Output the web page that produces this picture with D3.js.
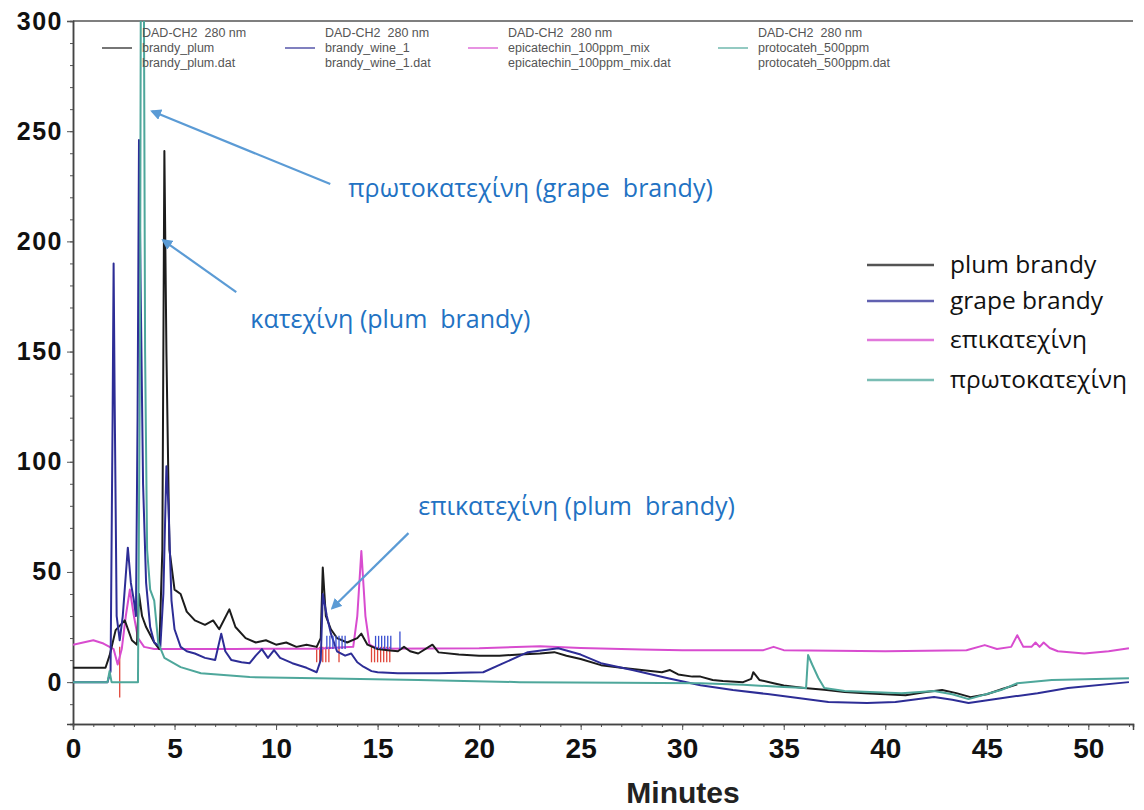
<!DOCTYPE html>
<html><head><meta charset="utf-8">
<script src="https://cdn.jsdelivr.net/npm/d3@7"></script>
<style>
html,body{margin:0;padding:0;background:#fff;}
svg{display:block;}
</style></head>
<body>
<script>
// ---------- DATA ----------
const plumT = [0,1.6,1.8,2.1,2.55,2.9,3.15,3.25,3.4,3.6,4.0,4.25,4.4,4.5,4.6,4.75,5.0,5.3,5.6,6.0,6.5,6.9,7.2,7.7,8.0,8.5,9.0,9.5,10,10.5,11,11.5,12,12.2,12.3,12.45,12.7,13,13.5,14,14.2,14.5,15,15.5,16,16.3,16.6,17,17.7,18,19,20,21,22,23,23.7,24.3,25,26,27,28,29,29.4,29.8,30.5,30.9,31.5,32,33,33.4,33.5,33.8,34.5,35,36,37,38,39,40,41,42,42.8,43.5,44.2,45,45.8,46.5];
const plumV = [6.5,6.5,12,23.6,28,19,17,40,30,25,18,15,60,241,150,60,42,40,32,28,26,28,24,33,25,20,18,19,17,18,16,17,16,20,52,30,24,20,18,20,22,17,15,14.5,14,16,14,13,17,13.5,12.5,12,12,12.5,13,13.6,12,10.5,7.7,6.5,5.5,4.5,5.5,3.5,2.5,2.5,1,0.5,0,1.5,4.5,1,-0.5,-1.5,-2.7,-3.5,-4.5,-5,-5.5,-6,-4.5,-3.6,-5,-6.8,-5.5,-3,-1];

const grapeT = [0,1.7,1.85,1.95,2.0,2.05,2.15,2.3,2.45,2.7,2.85,3.0,3.1,3.18,3.25,3.33,3.45,3.6,3.8,4.0,4.3,4.45,4.6,4.7,4.85,5.0,5.3,5.6,6.0,6.5,7.0,7.3,7.5,7.8,8.3,8.7,9.0,9.3,9.6,9.9,10.2,10.8,11.5,12.0,12.2,12.3,12.5,12.7,13,13.4,13.7,14.0,14.3,14.7,15,16,17,18,19,20.2,21.2,22.4,23.9,25,26,27.6,29.3,30.9,32.5,34.2,35.8,37.2,39.1,40.5,42.4,43.3,44.1,45.7,47.5,49,52];
const grapeV = [0,0,5,120,190,130,30,19,30,61,45,37,30,120,246,180,90,45,25,18,16,40,98,80,37,24,16,14,13,11,10,22,14,10,9,8.6,12,15,11,14.5,11,8.6,6.5,4.5,10,40,30,22,14,12,13,9,7,5,4.5,4,4,4,4.2,4.5,8.6,13.6,15.4,12.5,8.6,5.4,1.8,-1.4,-3.6,-5.4,-7.3,-9,-9.5,-9,-6.8,-8,-9.5,-7.3,-5,-2.7,0];

const epiT = [0,0.5,1.0,1.5,1.8,2.0,2.2,2.4,2.6,2.8,3.0,3.2,3.5,4,6,8,10,12,13.8,14.0,14.2,14.4,14.6,15,20,23,25,28,30,34,34.5,35,40,44,44.9,45.5,46.2,46.5,46.8,47.2,47.4,47.6,47.8,48.1,48.5,49.8,51,52];
const epiV = [17,18,19,17.5,16,15,8,15,30,42,30,20,16,15,15,15,15.2,15.2,16,30,59.5,30,17,15.2,15.4,16.3,15.5,14.8,14.5,14.5,16,14.5,14,14.5,16.8,15,16,21.3,16,16,18,16,18,15.5,14,13,14,15.4];

const protoT = [0,1.7,1.8,1.9,3.2,3.3,3.36,3.46,3.55,3.65,3.8,4.0,4.2,4.5,5.3,6.3,8.7,12,17,22,27,30.9,33,35,36.1,36.2,36.4,36.7,37.0,38,40.8,42.4,43.3,44.1,45.7,46.5,48.2,52];
const protoV = [0,0,5,0,0,150,400,400,150,60,42,37,17.7,11,6.8,4,2.3,1.8,1,0,-0.3,-0.5,-1.2,-2.2,-2.7,12.3,8,2,-2.7,-4,-5,-4,-5.5,-7.7,-3.6,-0.5,1,1.8];

const redMarkTimes = [2.3,12.0,12.15,12.3,12.45,12.6,13.1,14.7,14.85,15.0,15.15,15.3,15.45,15.6];
const blueMarkTimes = [12.5,12.65,12.8,12.95,13.1,13.25,13.4,14.9,15.05,15.2,15.35,15.5,15.65,16.1];

const xTicks = [0,5,10,15,20,25,30,35,40,45,50];
const yTicks = [0,50,100,150,200,250,300];

const seriesNames = ["plum brandy","grape brandy","επικατεχίνη","πρωτοκατεχίνη"];
const seriesColors = ["#1c1c1c","#2d2d96","#d84ccf","#4ea79b"];
const topLegendTitle = ["DAD-CH2  280 nm","DAD-CH2  280 nm","DAD-CH2  280 nm","DAD-CH2  280 nm"];
const topLegendName = ["brandy_plum","brandy_wine_1","epicatechin_100ppm_mix","protocateh_500ppm"];
const topLegendFile = ["brandy_plum.dat","brandy_wine_1.dat","epicatechin_100ppm_mix.dat","protocateh_500ppm.dat"];

const annoTexts = ["πρωτοκατεχίνη (grape  brandy)","κατεχίνη (plum  brandy)","επικατεχίνη (plum  brandy)"];
const annoTextT = [13.56,8.73,17.0];
const annoTextV = [220,160.6,75.8];
const arrowFromT = [12.67,8.04,16.52];
const arrowFromV = [226,177,67.6];
const arrowToT = [3.9,4.44,12.77];
const arrowToV = [259,200.5,33.6];

// ---------- CHART ----------
const W = 1144, H = 810;
const svg = d3.select("body").append("svg").attr("width",W).attr("height",H);

const x = d3.scaleLinear().domain([0,52.2]).range([73,1133]);
const y = d3.scaleLinear().domain([-19,300]).range([724,21]);

const defs = svg.append("defs");
defs.append("clipPath").attr("id","plotclip").append("rect")
  .attr("x",x(0)).attr("y",y(300)).attr("width",x(52.2)-x(0)).attr("height",y(-19)-y(300));
defs.append("marker").attr("id","arr").attr("viewBox","0 0 10 10")
  .attr("refX",8).attr("refY",5).attr("markerWidth",5).attr("markerHeight",5)
  .attr("orient","auto").append("path").attr("d","M0,0 L10,5 L0,10 z").attr("fill","#5b9bd5");

// top border
svg.append("line").attr("x1",x(0)).attr("x2",x(52.2)).attr("y1",y(300)).attr("y2",y(300))
  .attr("stroke","#555").attr("stroke-width",1.5);

// axes
const yAxis = d3.axisLeft(y).tickValues(yTicks).tickSize(6).tickFormat(d3.format("d"));
const yMinor = d3.axisLeft(y).tickValues(d3.range(-10,301,10)).tickSize(3).tickFormat("");
const xAxis = d3.axisBottom(x).tickValues(xTicks).tickSize(6).tickFormat(d3.format("d"));
const xMinor = d3.axisBottom(x).tickValues(d3.range(0,53,1)).tickSize(3).tickFormat("");

const gyMinor = svg.append("g").attr("transform",`translate(${x(0)},0)`).call(yMinor);
const gy = svg.append("g").attr("transform",`translate(${x(0)},0)`).call(yAxis);
const gxMinor = svg.append("g").attr("transform",`translate(0,${y(-19)})`).call(xMinor);
const gx = svg.append("g").attr("transform",`translate(0,${y(-19)})`).call(xAxis);
[gy,gyMinor,gx,gxMinor].forEach(g=>{
  g.selectAll("path").attr("stroke","#444").attr("stroke-width",1.5);
  g.selectAll("line").attr("stroke","#555");
});
gy.selectAll("text").attr("font-family","'Liberation Sans',Arial,sans-serif").attr("font-weight","bold")
  .attr("font-size",25).attr("letter-spacing","1.5px").attr("fill","#111").attr("x",-10);
gx.selectAll("text").attr("font-family","'Liberation Sans',Arial,sans-serif").attr("font-weight","bold")
  .attr("font-size",28).attr("fill","#111").attr("dy","0.9em");

svg.append("text").attr("x",683).attr("y",803).attr("text-anchor","middle")
  .attr("font-family","'Liberation Sans',Arial,sans-serif").attr("font-weight","bold")
  .attr("font-size",30).attr("fill","#222").text("Minutes");

// lines
const plot = svg.append("g").attr("clip-path","url(#plotclip)");
const lineGen = d3.line().x(d=>x(d[0])).y(d=>y(d[1]));
const series = [
  {T:epiT,V:epiV,c:seriesColors[2]},
  {T:plumT,V:plumV,c:seriesColors[0]},
  {T:grapeT,V:grapeV,c:seriesColors[1]},
  {T:protoT,V:protoV,c:seriesColors[3]}
];
plot.selectAll(".rm").data(redMarkTimes).enter().append("line")
  .attr("x1",d=>x(d)).attr("x2",d=>x(d)).attr("y1",y(16)).attr("y2",d=>y(d<5?-7:9))
  .attr("stroke","#e0463a").attr("stroke-width",1.3);
series.forEach(s=>{
  plot.append("path").datum(s.T.map((t,i)=>[t,s.V[i]]))
    .attr("d",lineGen).attr("fill","none").attr("stroke",s.c)
    .attr("stroke-width",2).attr("stroke-linejoin","round");
});
plot.selectAll(".bm").data(blueMarkTimes).enter().append("line")
  .attr("x1",d=>x(d)).attr("x2",d=>x(d)).attr("y1",y(15)).attr("y2",d=>y(d>16?23:21))
  .attr("stroke","#3a4fd0").attr("stroke-width",1.3);

// top legend
const tlX = [102,285,468,718];
topLegendName.forEach((n,i)=>{
  const g = svg.append("g");
  g.append("line").attr("x1",tlX[i]).attr("x2",tlX[i]+30).attr("y1",48).attr("y2",48)
    .attr("stroke",seriesColors[i]).attr("stroke-width",1.5).attr("opacity",0.8);
  const t = g.append("text").attr("font-family","'Liberation Sans',Arial,sans-serif")
    .attr("font-size",12.5).attr("fill","#555");
  [topLegendTitle[i],n,topLegendFile[i]].forEach((s,j)=>{
    t.append("tspan").attr("x",tlX[i]+40).attr("y",37+j*15).attr("xml:space","preserve").text(s);
  });
});

// right legend
const rlY = [265,301,340,380];
seriesNames.forEach((n,i)=>{
  svg.append("line").attr("x1",867).attr("x2",934).attr("y1",rlY[i]).attr("y2",rlY[i])
    .attr("stroke",seriesColors[i]).attr("stroke-width",2.5).attr("opacity",0.75);
  svg.append("text").attr("x",950).attr("y",rlY[i]+8).attr("font-family","'Open Sans',sans-serif")
    .attr("font-size",24.5).attr("fill","#111").text(n);
});

// annotations
annoTexts.forEach((s,i)=>{
  svg.append("line").attr("x1",x(arrowFromT[i])).attr("y1",y(arrowFromV[i]))
    .attr("x2",x(arrowToT[i])).attr("y2",y(arrowToV[i]))
    .attr("stroke","#5b9bd5").attr("stroke-width",2.2).attr("marker-end","url(#arr)");
  svg.append("text").attr("x",x(annoTextT[i])).attr("y",y(annoTextV[i]))
    .attr("font-family","'Open Sans',sans-serif").attr("font-size",25)
    .attr("fill","#2272c3").attr("xml:space","preserve").text(s);
});
</script>
</body></html>
